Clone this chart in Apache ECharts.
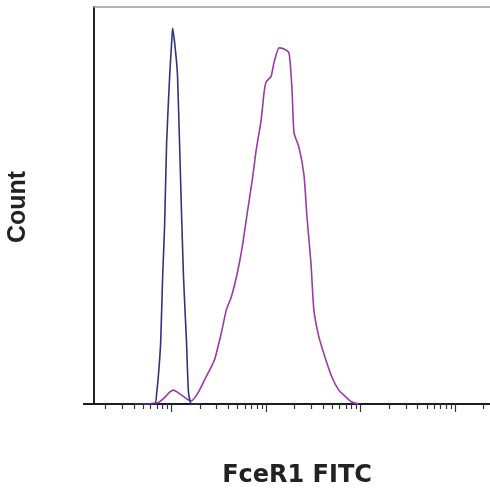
<!DOCTYPE html>
<html>
<head>
<meta charset="utf-8">
<script src="https://cdn.jsdelivr.net/npm/echarts@6/dist/echarts.min.js"></script>
<style>
html,body{margin:0;padding:0;background:#fff;}
#c{width:490px;height:496px;}
</style>
</head>
<body>
<div id="c"></div>
<script>
// x values are log10(fluorescence), y values are relative counts (% of max scale)
const blueIsotype = [
  [1.60,0],[1.821,0],[1.842,2.8],[1.863,8],[1.884,15.4],[1.905,32],[1.926,45],[1.947,65.7],
  [1.979,82.4],[2.000,90.9],[2.011,94.7],[2.032,91],[2.053,86],[2.063,82.4],[2.084,65.7],
  [2.105,48],[2.126,32],[2.147,21],[2.158,15.4],[2.179,2.8],[2.211,0],[2.30,0]
];
const magentaFceR1 = [
  [1.70,0],[1.85,0.3],[1.92,1.5],[1.98,3.0],[2.02,3.5],[2.06,3.0],[2.12,2.0],[2.18,1.0],
  [2.211,0.8],[2.284,3.0],[2.347,6.0],[2.453,11.1],[2.526,17.9],[2.579,23.7],[2.632,27.0],
  [2.695,33.0],[2.747,39.5],[2.800,48.1],[2.853,56.4],[2.895,64.0],[2.947,71.5],[2.979,78.6],
  [3.000,81.1],[3.053,82.6],[3.084,86.1],[3.137,89.7],[3.189,89.4],[3.242,88.4],[3.274,79.1],
  [3.295,68.3],[3.347,64.7],[3.400,57.7],[3.432,47.1],[3.474,35.5],[3.505,23.7],[3.558,16.9],
  [3.632,11.1],[3.695,6.8],[3.768,3.5],[3.842,1.8],[3.905,0.5],[3.98,0]
];
const decades = [1,2,3,4,5];
const majorTicks = [2,3,4,5];
const xTitle = 'FceR1 FITC';
const yTitle = 'Count';

const minorTicks = [];
decades.forEach(d => { for (let k = 2; k <= 9; k++) minorTicks.push(d + Math.log10(k)); });

const xMin = 1.179, xMax = 5.368;
const chart = echarts.init(document.getElementById('c'));
chart.setOption({
  animation: false,
  backgroundColor: '#fff',
  grid: {left: 94, right: -2, top: 7, bottom: 92},
  xAxis: [
    {type:'value', min:xMin, max:xMax, position:'bottom',
     axisLine:{show:true, lineStyle:{color:'#1a1a2a', width:2}},
     axisTick:{show:true, inside:false, length:5, customValues:minorTicks, lineStyle:{color:'#333', width:1.2}},
     axisLabel:{show:false}, splitLine:{show:false}},
    {type:'value', min:xMin, max:xMax, position:'bottom',
     axisLine:{show:false},
     axisTick:{show:true, inside:false, length:8, customValues:majorTicks, lineStyle:{color:'#333', width:1.2}},
     axisLabel:{show:false}, splitLine:{show:false}},
    {type:'value', min:xMin, max:xMax, position:'top',
     axisLine:{show:true, lineStyle:{color:'#9a9a9a', width:1.5}},
     axisTick:{show:false}, axisLabel:{show:false}, splitLine:{show:false}}
  ],
  yAxis: {type:'value', min:0, max:100,
    axisLine:{show:true, lineStyle:{color:'#222', width:2}},
    axisTick:{show:false}, axisLabel:{show:false}, splitLine:{show:false}},
  graphic: [
    {type:'line', shape:{x1:83, y1:404, x2:95, y2:404}, style:{stroke:'#1a1a2a', lineWidth:2}},
    {type:'text', x:18, y:207, rotation:Math.PI/2,
     style:{text:yTitle, font:'bold 25px "Liberation Sans", Arial, sans-serif', fill:'#222', align:'center', verticalAlign:'middle'}},
    {type:'text', x:297, y:476,
     style:{text:xTitle, font:'bold 24px "DejaVu Sans", sans-serif', fill:'#222', align:'center', verticalAlign:'middle'}}
  ],
  series: [
    {type:'line', data:magentaFceR1, xAxisIndex:0, showSymbol:false, smooth:0.2,
     lineStyle:{color:'#9a3aa6', width:1.6}},
    {type:'line', data:blueIsotype, xAxisIndex:0, showSymbol:false, smooth:0.2,
     lineStyle:{color:'#33337a', width:1.6}}
  ]
});
</script>
</body>
</html>
